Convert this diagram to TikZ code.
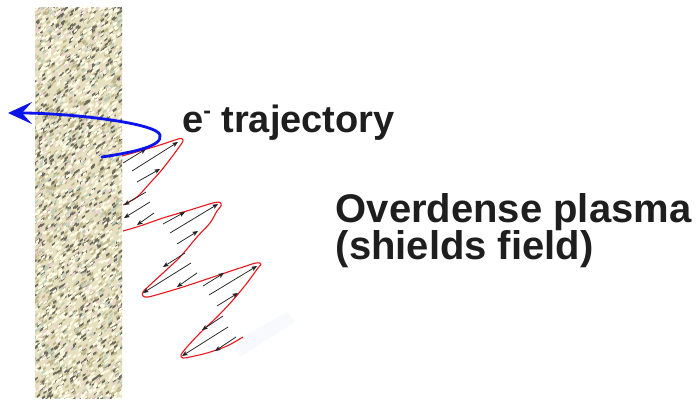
\documentclass[tikz,border=0pt]{standalone}
\usepackage{fontspec}
\setmainfont{Liberation Sans}
\usetikzlibrary{arrows.meta}

\definecolor{wallbase}{RGB}{230,224,192}
\definecolor{speckdark}{RGB}{108,106,95}
\definecolor{specktan}{RGB}{190,180,140}
\definecolor{specklight}{RGB}{254,252,230}
\definecolor{speckpink}{RGB}{235,208,208}
\definecolor{speckgreen}{RGB}{190,208,188}
\definecolor{hazeblue}{RGB}{248,249,253}
\definecolor{loopred}{RGB}{232,22,30}
\definecolor{trajblue}{RGB}{10,20,235}
\definecolor{fieldgray}{RGB}{35,35,35}
\definecolor{labelink}{RGB}{30,30,30}

\tikzset{
  speck/.style={fill=#1},
  loopline/.style={draw=loopred, line width=1.1pt, line join=round},
  fieldvec/.style={draw=fieldgray, line width=0.75pt,
    -{Stealth[length=5.5pt,width=4.5pt,inset=1.2pt]}},
  trajline/.style={draw=trajblue, line width=2.8pt, line cap=round,
    -{Stealth[length=24pt,width=22pt,inset=10pt]}},
  bigtext/.style={inner sep=0pt, anchor=base west, text=labelink,
    font=\bfseries\fontsize{40}{40}\selectfont}
}

\begin{document}
\begin{tikzpicture}[x=1pt,y=-1pt]
\useasboundingbox (0,0) rectangle (697,401);
\fill[white] (0,0) rectangle (697,401);

% textured wall of overdense plasma
\fill[wallbase] (35,8) rectangle (122,398);
\pgfmathsetseed{4242}
\begin{scope}
  \clip (35,8) rectangle (122,398);
  \foreach \c/\n in {specktan/1200, speckdark/850, specklight/1300,
                     speckpink/220, speckgreen/220} {
    \foreach \i in {1,...,\n} {
      \pgfmathsetmacro{\px}{33+90*rnd}
      \pgfmathsetmacro{\py}{6+394*rnd}
      \fill[speck=\c] (\px,\py) -- ++(3.2,-2.2) -- ++(0,2.2) -- ++(-3.2,2.2) -- cycle;
    }
  }
\end{scope}

% faint glow at the end of the oscillation
\fill[hazeblue] (237,340) -- (287,312) -- (295,322) -- (240,357) -- cycle;

% red oscillating field envelope
\draw[loopline] plot[smooth, tension=0.55] coordinates {
  (122,156) (140,151) (160,145) (175,140) (181,138.5) (183,141)
  (177,150) (168,162) (160,172) (150,183) (137,197) (123,205)};
\draw[loopline] plot[smooth, tension=0.55] coordinates {
  (123,231) (140,226) (163,218) (190,210) (213,203) (220,202.5) (221,206)
  (217,211) (210,223) (197,237) (180,257) (163,273) (150,285) (143,292)
  (143,296) (148,297) (163,293) (183,287) (213,277) (240,268) (256,263)
  (261,264) (258,268) (247,283) (233,300) (217,317) (200,333) (187,347)
  (181,355) (183,358) (190,357) (207,353) (227,346) (243,337)};

% field vectors inside the envelope
\foreach \xa/\ya/\xb/\yb in {
    123/163/146/149, 132/171/178/142, 137/182/160/169,
    146/192/124/205, 150/202/124/218, 154/213/137/225,
    163/224/185/212, 170/233/218/204, 177/244/198/231,
    185/253/163/267, 191/263/143/293, 197/273/177/287,
    203/286/224/273, 209/295/257/266, 217/306/238/293,
    223/316/202/330, 228/327/182/356, 236/337/215/351} {
  \draw[fieldvec] (\xa,\ya) -- (\xb,\yb);
}

% electron trajectory
\coordinate (estart) at (102,157);
\coordinate (eturn) at (160,135);
\coordinate (eend) at (8,113);
\draw[trajline] (estart) .. controls (135,152) and (163,146) .. (eturn)
  .. controls (157,123) and (70,113) .. (eend);

% labels
\node[bigtext, font=\bfseries\fontsize{38}{38}\selectfont] (traj) at (182,133)
  {e\raisebox{14pt}{\fontsize{23}{23}\selectfont -} trajectory};
\node[bigtext] (plasma) at (335.5,223) {Overdense plasma};
\node[bigtext] (shield) at (335.5,259) {(shields field)};
\end{tikzpicture}
\end{document}
